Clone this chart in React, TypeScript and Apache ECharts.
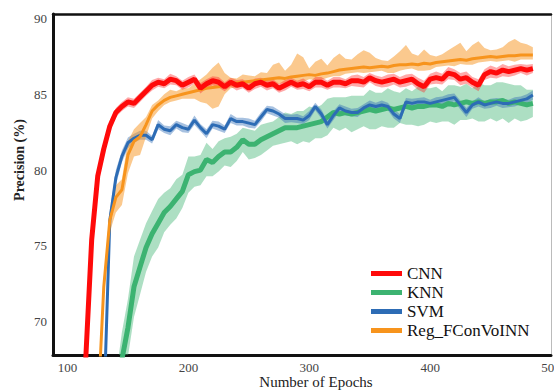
import React, { useEffect, useRef } from "react";
import * as echarts from "echarts";

const epochs = [
  110, 115, 120, 125, 130, 135, 140, 145, 150, 155,
  160, 165, 170, 175, 180, 185, 190, 195, 200, 205,
  210, 215, 220, 225, 230, 235, 240, 245, 250, 255,
  260, 265, 270, 275, 280, 285, 290, 295, 300, 305,
  310, 315, 320, 325, 330, 335, 340, 345, 350, 355,
  360, 365, 370, 375, 380, 385, 390, 395, 400, 405,
  410, 415, 420, 425, 430, 435, 440, 445, 450, 455,
  460, 465, 470, 475, 480, 485,
];

const xTicks = [100, 200, 300, 400, 500];
const yTicks = [70, 75, 80, 85, 90];

const cnn = [
  null, 67.4, 75.4, 79.6, 81.4, 82.9, 83.8, 84.2, 84.5, 84.4,
  84.8, 85.2, 85.6, 85.8, 85.7, 86.0, 85.9, 85.6, 85.8, 86.0,
  85.4, 85.7, 85.9, 85.8, 85.5, 85.8, 85.6, 85.7, 85.4, 85.7,
  85.8, 85.6, 85.7, 85.4, 85.6, 85.8, 85.6, 85.7, 85.5, 85.8,
  85.8, 85.6, 85.8, 85.8, 85.7, 85.9, 85.9, 85.8, 86.1, 85.9,
  85.8, 85.9, 86.0, 85.8, 85.9, 86.0, 85.7, 85.5, 86.0, 86.1,
  86.0, 86.4, 86.3, 86.0, 86.1, 85.8, 85.6, 86.3, 86.5, 86.4,
  86.6, 86.5, 86.6, 86.7, 86.6, 86.7,
];
const cnnSpread = [
  0, 0.5, 0.5, 0.45, 0.4, 0.35, 0.3, 0.3, 0.3, 0.3,
  0.3, 0.3, 0.35, 0.3, 0.3, 0.35, 0.3, 0.3, 0.35, 0.3,
  0.35, 0.3, 0.3, 0.35, 0.3, 0.3, 0.35, 0.3, 0.3, 0.35,
  0.3, 0.35, 0.3, 0.3, 0.35, 0.3, 0.3, 0.35, 0.3, 0.35,
  0.35, 0.3, 0.35, 0.35, 0.3, 0.35, 0.4, 0.35, 0.3, 0.35,
  0.35, 0.4, 0.35, 0.35, 0.4, 0.35, 0.4, 0.4, 0.35, 0.4,
  0.35, 0.4, 0.35, 0.4, 0.4, 0.35, 0.4, 0.35, 0.4, 0.35,
  0.4, 0.35, 0.35, 0.3, 0.35, 0.3,
];

const knn = [
  null, null, null, null, null, null, 64.5, 67.5, 69.6, 72.3,
  73.6, 74.9, 75.8, 76.5, 77.2, 77.6, 78.1, 78.6, 79.7, 79.9,
  80.0, 80.7, 80.5, 80.9, 81.2, 81.2, 81.5, 82.0, 81.7, 81.7,
  82.0, 82.2, 82.4, 82.6, 82.8, 82.8, 82.8, 82.9, 83.0, 83.1,
  83.2, 83.5, 83.8, 83.7, 83.8, 83.7, 83.8, 83.9, 84.0, 83.9,
  84.0, 84.1, 84.0, 84.1, 84.2, 84.1, 84.2, 84.2, 84.3, 84.3,
  84.2, 84.4, 84.3, 84.4, 84.5, 84.4, 84.5, 84.4, 84.5, 84.5,
  84.6, 84.4, 84.5, 84.4, 84.3, 84.4,
];
const knnSpread = [
  0, 0, 0, 0, 0, 0, 1.8, 1.8, 1.9, 2.0,
  1.8, 1.6, 1.5, 1.6, 1.3, 1.2, 1.3, 1.1, 1.2, 1.0,
  1.0, 1.1, 0.9, 1.0, 0.9, 1.0, 0.9, 0.8, 1.0, 0.9,
  1.0, 0.9, 0.8, 0.9, 1.0, 0.9, 1.1, 1.0, 1.2, 1.0,
  1.1, 1.2, 1.0, 1.1, 1.0, 1.2, 1.1, 1.0, 1.3, 1.2,
  1.1, 1.3, 1.2, 1.0, 1.2, 1.1, 1.3, 1.2, 1.1, 1.2,
  1.0, 1.2, 1.3, 1.1, 1.2, 1.0, 1.3, 1.2, 1.1, 1.3,
  1.2, 1.3, 1.1, 1.2, 1.0, 0.9,
];

const svm = [
  null, null, null, null, 64.0, 76.7, 79.5, 80.9, 81.8, 82.1,
  82.3, 82.3, 82.0, 83.0, 82.7, 82.6, 83.0, 82.8, 82.7, 83.3,
  82.8, 82.4, 83.0, 82.9, 82.7, 83.4, 83.2, 83.2, 83.1, 83.0,
  83.5, 84.0, 83.9, 83.7, 83.4, 83.4, 83.4, 83.3, 83.6, 84.2,
  83.7, 83.0, 83.6, 84.1, 83.9, 83.8, 83.8, 84.1, 84.3, 84.2,
  84.3, 84.2, 83.7, 83.4, 84.5, 84.4, 84.5, 84.5, 84.4, 84.5,
  84.6, 84.7, 84.8, 84.3, 83.8, 84.3, 84.5, 84.3, 84.4, 84.5,
  84.4, 84.4, 84.5, 84.6, 84.7, 84.95,
];
const svmSpread = [
  0, 0, 0, 0, 0.5, 0.5, 0.5, 0.4, 0.35, 0.3,
  0.3, 0.3, 0.25, 0.3, 0.25, 0.3, 0.25, 0.3, 0.25, 0.3,
  0.25, 0.3, 0.25, 0.3, 0.25, 0.3, 0.25, 0.25, 0.3, 0.25,
  0.3, 0.25, 0.3, 0.25, 0.3, 0.25, 0.3, 0.25, 0.3, 0.25,
  0.3, 0.25, 0.3, 0.25, 0.3, 0.25, 0.3, 0.25, 0.3, 0.25,
  0.3, 0.25, 0.3, 0.3, 0.25, 0.3, 0.25, 0.3, 0.25, 0.3,
  0.25, 0.3, 0.25, 0.3, 0.3, 0.25, 0.3, 0.25, 0.3, 0.25,
  0.3, 0.25, 0.3, 0.25, 0.3, 0.3,
];

const reg = [
  null, null, null, 64.0, 72.3, 76.7, 78.2, 78.7, 81.0, 81.9,
  82.2, 83.0, 83.9, 84.3, 84.6, 84.8, 84.9, 85.0, 85.1, 85.2,
  85.3, 85.4, 85.45, 85.5, 85.6, 85.7, 85.75, 85.8, 85.85, 85.9,
  85.95, 86.0, 86.05, 86.1, 86.05, 86.15, 86.2, 86.25, 86.3, 86.25,
  86.35, 86.4, 86.5, 86.6, 86.65, 86.7, 86.75, 86.8, 86.75, 86.8,
  86.85, 86.8, 86.9, 86.95, 86.95, 87.0, 86.95, 87.05, 87.0, 87.1,
  87.15, 87.2, 87.25, 87.3, 87.25, 87.35, 87.4, 87.45, 87.5, 87.45,
  87.5, 87.55, 87.55, 87.6, 87.6, 87.6,
];
const regUp = [
  0, 0, 0, 0, 0.6, 0.6, 0.8, 0.7, 0.9, 0.8,
  0.9, 0.5, 0.4, 0.3, 0.4, 0.5, 0.3, 0.4, 0.3, 0.5,
  0.7, 0.9, 1.3, 1.6, 0.8, 0.4, 0.3, 0.5, 0.4, 0.3,
  0.5, 0.4, 0.9, 1.0, 0.5, 0.8, 1.5, 1.2, 0.4, 0.9,
  1.0, 0.5, 0.9, 1.1, 0.7, 0.6, 0.9, 1.1, 1.0, 0.6,
  0.4, 0.4, 0.6, 0.9, 1.3, 0.7, 0.6, 0.9, 0.6, 0.4,
  0.5, 0.7, 0.9, 1.1, 0.6, 0.9, 1.1, 0.6, 0.4, 0.5,
  0.6, 0.9, 1.1, 0.8, 0.7, 0.5,
];
const regDown = [
  0, 0, 0, 0, 0.6, 0.8, 1.0, 1.0, 1.2, 1.0,
  1.2, 0.8, 0.5, 0.4, 0.3, 0.3, 0.3, 0.3, 0.4, 0.5,
  0.8, 1.0, 1.4, 1.3, 0.6, 0.3, 0.3, 0.3, 0.3, 0.3,
  0.3, 0.3, 0.4, 0.4, 0.3, 0.3, 0.4, 0.4, 0.3, 0.3,
  0.4, 0.3, 0.3, 0.4, 0.3, 0.3, 0.3, 0.4, 0.3, 0.3,
  0.3, 0.4, 0.5, 0.4, 0.3, 0.3, 0.4, 0.5, 0.4, 0.3,
  0.3, 0.3, 0.4, 0.3, 0.3, 0.4, 0.3, 0.3, 0.3, 0.3,
  0.3, 0.3, 0.4, 0.3, 0.3, 0.3,
];

const SERIF = '"Liberation Serif", "DejaVu Serif", "Times New Roman", serif';

function pts(vals: (number | null)[]) {
  return vals.map((v, i) => [epochs[i], v == null ? "-" : v]);
}

function band(key: string, mean: (number | null)[], down: number[], up: number[], color: string) {
  const rows: number[][] = [];
  mean.forEach((v, i) => {
    if (v != null) rows.push([epochs[i], v - down[i], v + up[i]]);
  });
  return {
    name: key + "_band",
    type: "custom",
    data: rows,
    silent: true,
    clip: true,
    z: 1,
    encode: { x: 0, y: [1, 2] },
    renderItem: (params: any, api: any) => {
      if (params.dataIndexInside !== 0) return null;
      const n = params.dataInsideLength;
      const upper: number[][] = [];
      const lower: number[][] = [];
      for (let i = 0; i < n; i++) {
        const x = api.value(0, i);
        lower.push(api.coord([x, api.value(1, i)]));
        upper.push(api.coord([x, api.value(2, i)]));
      }
      const points = lower.concat(upper.reverse());
      const cs = params.coordSys;
      return {
        type: "group",
        clipPath: { type: "rect", shape: { x: cs.x, y: cs.y, width: cs.width, height: cs.height } },
        children: [
          {
            type: "polygon",
            shape: { points },
            style: { fill: color, stroke: "none" },
          },
        ],
      };
    },
  };
}

function mainLine(name: string, vals: (number | null)[], color: string, width: number, z: number) {
  return {
    name,
    type: "line",
    data: pts(vals),
    symbol: "none",
    color,
    itemStyle: { color },
    lineStyle: { color, width },
    z,
  };
}

export default function App() {
  const ref = useRef<HTMLDivElement>(null);
  useEffect(() => {
    if (!ref.current) return;
    const chart = echarts.init(ref.current, null, { renderer: "svg" });
    const option: any = {
      animation: false,
      backgroundColor: "#ffffff",
      grid: { left: 53, right: 3, top: 14, bottom: 36, containLabel: false, outerBoundsMode: "none" },
      xAxis: [
        {
          type: "value",
          min: 88,
          max: 500,
          axisLine: { show: true, onZero: false, lineStyle: { color: "#111", width: 3 } },
          axisTick: { show: false },
          splitLine: { show: false },
          axisLabel: {
            customValues: xTicks,
            color: "#444",
            fontFamily: SERIF,
            fontSize: 13,
            margin: 6,
          },
        },
        {
          type: "value",
          position: "top",
          min: 88,
          max: 500,
          axisLine: { show: true, onZero: false, lineStyle: { color: "#111", width: 2.5 } },
          axisTick: { show: false },
          axisLabel: { show: false },
          splitLine: { show: false },
        },
      ],
      yAxis: [
        {
          type: "value",
          min: 67.8,
          max: 90.3,
          axisLine: { show: true, onZero: false, lineStyle: { color: "#111", width: 3 } },
          axisTick: { show: false },
          splitLine: { show: false },
          axisLabel: {
            customValues: yTicks,
            color: "#444",
            fontFamily: SERIF,
            fontSize: 13,
            margin: 6,
          },
        },
        {
          type: "value",
          position: "right",
          min: 67.8,
          max: 90.3,
          axisLine: { show: true, onZero: false, lineStyle: { color: "#bbbbbb", width: 1 } },
          axisTick: { show: false },
          axisLabel: { show: false },
          splitLine: { show: false },
        },
      ],
      legend: {
        data: ["CNN", "KNN", "SVM", "Reg_FConVoINN"],
        orient: "vertical",
        left: 371,
        top: 265,
        icon: "rect",
        itemWidth: 31,
        itemHeight: 5,
        itemGap: 2,
        padding: 0,
        textStyle: { fontFamily: SERIF, fontSize: 17, color: "#111", lineHeight: 17 },
      },
      graphic: [
        {
          type: "text",
          x: 19,
          y: 160,
          rotation: Math.PI / 2,
          style: {
            text: "Precision (%)",
            font: 'bold 14px "Liberation Serif", "DejaVu Serif", serif',
            fill: "#222",
            align: "center",
            verticalAlign: "middle",
          },
        },
        {
          type: "text",
          x: 316,
          y: 382,
          style: {
            text: "Number of Epochs",
            font: '15px "Liberation Serif", "DejaVu Serif", serif',
            fill: "#222",
            align: "center",
            verticalAlign: "middle",
          },
        },
      ],
      series: [
        band("knn", knn, knnSpread, knnSpread, "rgba(60,179,113,0.42)"),
        band("svm", svm, svmSpread, svmSpread, "rgba(45,108,181,0.42)"),
        band("reg", reg, regDown, regUp, "rgba(247,148,29,0.5)"),
        band("cnn", cnn, cnnSpread, cnnSpread, "rgba(255,40,40,0.4)"),
        mainLine("KNN", knn, "#3cb371", 5, 3),
        mainLine("SVM", svm, "#2d6cb5", 3, 4),
        mainLine("Reg_FConVoINN", reg, "#f7941d", 3, 5),
        mainLine("CNN", cnn, "#ff0a0a", 5, 6),
      ],
    };
    chart.setOption(option);
    return () => chart.dispose();
  }, []);
  return (
    <div
      ref={ref}
      style={{ position: "absolute", left: 0, top: 0, width: 554, height: 391 }}
    />
  );
}
